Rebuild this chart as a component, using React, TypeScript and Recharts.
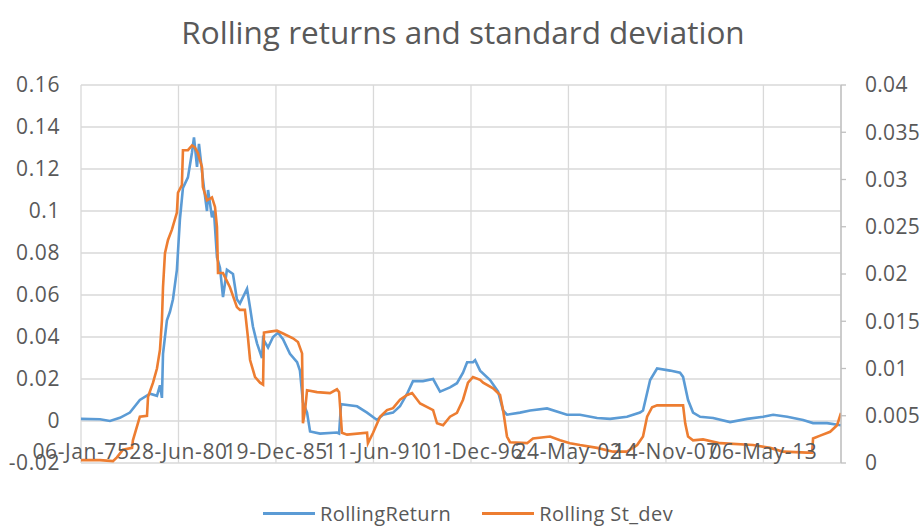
import { CartesianGrid, Line, LineChart, XAxis, YAxis } from "recharts";

const TICK_YEARS = [1975.014, 1980.489, 1985.964, 1991.441, 1996.918, 2002.392, 2007.868, 2013.342];
const TICK_LABELS = ["06-Jan-75", "28-Jun-80", "19-Dec-85", "11-Jun-91", "01-Dec-96", "24-May-02", "14-Nov-07", "06-May-13"];

const RETURN_TICKS = [-0.02, 0, 0.02, 0.04, 0.06, 0.08, 0.1, 0.12, 0.14, 0.16];
const STDEV_TICKS = [0, 0.005, 0.01, 0.015, 0.02, 0.025, 0.03, 0.035, 0.04];

// RollingReturn (left axis), dates as decimal years
const RETURN_DATES = [
  1975.01, 1976.08, 1976.64, 1977.2, 1977.76, 1978.32, 1978.89, 1979.28, 1979.45, 1979.56,
  1979.62, 1979.84, 1980.01, 1980.18, 1980.4, 1980.57, 1980.74, 1981.02, 1981.25, 1981.36,
  1981.53, 1981.64, 1981.81, 1981.92, 1982.09, 1982.15, 1982.37, 1982.48, 1982.65, 1982.82,
  1982.99, 1983.21, 1983.55, 1983.77, 1983.94, 1984.34, 1984.51, 1984.67, 1984.9, 1985.18,
  1985.24, 1985.52, 1985.8, 1986.08, 1986.36, 1986.75, 1987.15, 1987.31, 1987.48, 1987.71,
  1987.88, 1988.44, 1989.39, 1989.51, 1989.62, 1990.52, 1991.08, 1991.64, 1991.98, 1992.54,
  1992.93, 1993.33, 1993.66, 1994.22, 1994.79, 1995.18, 1995.74, 1996.13, 1996.47, 1996.7,
  1997.03, 1997.15, 1997.43, 1997.99, 1998.44, 1998.72, 1998.94, 1999.67, 2000.24, 2001.19,
  2002.31, 2003.04, 2004.0, 2004.73, 2005.68, 2006.41, 2006.58, 2006.98, 2007.37, 2008.1,
  2008.66, 2008.83, 2009.11, 2009.39, 2009.79, 2010.52, 2011.47, 2012.43, 2013.33, 2013.89,
  2014.68, 2015.57, 2016.13, 2016.92, 2017.7,
];
const RETURN_VALUES = [
  0.001, 0.0008, 0.0, 0.0015, 0.004, 0.01, 0.013, 0.012, 0.017, 0.011,
  0.032, 0.048, 0.052, 0.058, 0.072, 0.096, 0.111, 0.116, 0.128, 0.135,
  0.121, 0.132, 0.119, 0.111, 0.1, 0.11, 0.097, 0.1, 0.078, 0.073,
  0.059, 0.072, 0.07, 0.058, 0.056, 0.063, 0.054, 0.045, 0.037, 0.03,
  0.039, 0.035, 0.04, 0.042, 0.039, 0.032, 0.028, 0.024, 0.009, 0.004,
  -0.005, -0.006, -0.0055, -0.006, 0.008, 0.007, 0.004, 0.0005, 0.003, 0.004,
  0.007, 0.013, 0.019, 0.019, 0.02, 0.014, 0.016, 0.018, 0.023, 0.028,
  0.028, 0.029, 0.024, 0.0195, 0.014, 0.005, 0.003, 0.004, 0.005, 0.006,
  0.003, 0.003, 0.0014, 0.001, 0.002, 0.004, 0.005, 0.0195, 0.025, 0.024,
  0.023, 0.021, 0.01, 0.004, 0.002, 0.0014, -0.0005, 0.001, 0.002, 0.003,
  0.002, 0.0005, -0.001, -0.001, -0.002,
];

// Rolling St_dev (right axis)
const STDEV_DATES = [
  1975.01, 1976.08, 1976.81, 1977.03, 1977.37, 1977.88, 1977.93, 1978.32, 1978.72, 1978.78,
  1979.06, 1979.28, 1979.45, 1979.56, 1979.62, 1979.73, 1979.9, 1980.12, 1980.4, 1980.46,
  1980.68, 1980.74, 1981.02, 1981.25, 1981.41, 1981.58, 1981.81, 1981.86, 1982.09, 1982.37,
  1982.54, 1982.65, 1982.71, 1982.99, 1983.38, 1983.77, 1983.94, 1984.22, 1984.39, 1984.51,
  1984.79, 1985.07, 1985.24, 1985.29, 1985.63, 1986.02, 1986.36, 1986.92, 1987.2, 1987.43,
  1987.48, 1987.6, 1987.71, 1988.27, 1989.0, 1989.39, 1989.51, 1989.67, 1989.96, 1991.08,
  1991.13, 1991.42, 1991.81, 1992.2, 1992.54, 1992.93, 1993.33, 1993.61, 1994.06, 1994.79,
  1995.01, 1995.35, 1995.74, 1996.13, 1996.47, 1996.75, 1997.03, 1997.43, 1997.6, 1998.16,
  1998.55, 1998.72, 1998.94, 1999.11, 2000.07, 2000.4, 2001.36, 2001.92, 2002.48, 2003.04,
  2004.0, 2004.9, 2005.68, 2006.25, 2006.58, 2006.81, 2007.09, 2007.37, 2008.83, 2008.95,
  2009.11, 2009.39, 2009.95, 2010.91, 2012.76, 2013.72, 2014.45, 2015.8, 2016.08, 2016.13,
  2016.53, 2017.09, 2017.48, 2017.7,
];
const STDEV_VALUES = [
  0.0003, 0.0003, 0.0002, 0.0006, 0.0014, 0.0016, 0.0024, 0.0049, 0.005, 0.007,
  0.0085, 0.01, 0.012, 0.0151, 0.0186, 0.0222, 0.0236, 0.0247, 0.0265, 0.0286,
  0.0294, 0.0331, 0.0331, 0.0336, 0.0334, 0.0328, 0.0313, 0.0292, 0.0278, 0.0281,
  0.0271, 0.025, 0.0201, 0.0201, 0.0186, 0.0165, 0.0162, 0.0162, 0.0133, 0.0109,
  0.0091, 0.0085, 0.0083, 0.0138, 0.0139, 0.014, 0.0137, 0.0132, 0.0128, 0.0116,
  0.0042, 0.0056, 0.0077, 0.0075, 0.0074, 0.0078, 0.0075, 0.0032, 0.003, 0.0032,
  0.0021, 0.0032, 0.0049, 0.0056, 0.0058, 0.0067, 0.0072, 0.0074, 0.0063, 0.0056,
  0.0042, 0.004, 0.0049, 0.0053, 0.0067, 0.0085, 0.0091, 0.0088, 0.0085, 0.0079,
  0.0072, 0.0056, 0.0028, 0.0022, 0.0021, 0.0026, 0.0028, 0.0024, 0.0021, 0.0019,
  0.0016, 0.0012, 0.0012, 0.0019, 0.0028, 0.0049, 0.0059, 0.0061, 0.0061, 0.0042,
  0.0028, 0.0024, 0.0025, 0.0021, 0.0019, 0.0016, 0.0012, 0.0011, 0.0011, 0.0026,
  0.0029, 0.0033, 0.004, 0.0053,
];

const BLUE = "#5b9bd5";
const ORANGE = "#ed7d31";
const TEXT = "#595959";
const FONT = "'Open Sans', sans-serif";

const returnData = RETURN_DATES.map((t, i) => ({ t, value: RETURN_VALUES[i] }));
const stdevData = STDEV_DATES.map((t, i) => ({ t, value: STDEV_VALUES[i] }));

function labelFor(v: number) {
  let best = 0;
  TICK_YEARS.forEach((t, i) => {
    if (Math.abs(t - v) < Math.abs(TICK_YEARS[best] - v)) best = i;
  });
  return TICK_LABELS[best];
}

function DateTick(props: any) {
  const { x, y, payload } = props;
  return (
    <text
      x={x}
      y={y - 12}
      textAnchor="middle"
      dominantBaseline="central"
      fill={TEXT}
      fontSize={21}
      letterSpacing={0.6}
      fontFamily={FONT}
    >
      {labelFor(payload.value)}
    </text>
  );
}

function LegendItem({ color, label }: { color: string; label: string }) {
  return (
    <div style={{ display: "flex", alignItems: "center", gap: 5 }}>
      <span style={{ display: "inline-block", width: 52, height: 3, background: color }} />
      <span>{label}</span>
    </div>
  );
}

export default function App() {
  return (
    <div
      style={{
        position: "absolute",
        left: 0,
        top: 0,
        width: 920,
        height: 526,
        background: "#fff",
        fontFamily: FONT,
        color: TEXT,
      }}
    >
      <div
        style={{
          position: "absolute",
          top: 10,
          left: 0,
          width: 926,
          textAlign: "center",
          fontSize: 31.5,
        }}
      >
        Rolling returns and standard deviation
      </div>
      <LineChart
        width={920}
        height={526}
        margin={{ top: 85, right: 0, bottom: 62, left: 0 }}
      >
        <CartesianGrid yAxisId="left" stroke="#d9d9d9" strokeWidth={1.3} />
        <XAxis
          dataKey="t"
          type="number"
          domain={[1975.014, 2017.7]}
          ticks={TICK_YEARS}
          allowDataOverflow
          height={1}
          axisLine={false}
          tickLine={false}
          tickSize={0}
          tickMargin={0}
          tick={DateTick}
          interval={0}
        />
        <YAxis
          yAxisId="left"
          orientation="left"
          width={81}
          domain={[-0.02, 0.16]}
          ticks={RETURN_TICKS}
          interval={0}
          axisLine={false}
          tickLine={false}
          tickMargin={15}
          tickFormatter={(v) => String(v)}
          tick={{ fill: TEXT, fontSize: 21, fontFamily: FONT, letterSpacing: 0.6 }}
        />
        <YAxis
          yAxisId="right"
          orientation="right"
          width={79}
          domain={[0, 0.04]}
          ticks={STDEV_TICKS}
          interval={0}
          axisLine={{ stroke: "#bfbfbf", strokeWidth: 1.3 }}
          tickLine={{ stroke: "#bfbfbf", strokeWidth: 1.3 }}
          tickSize={5}
          tickMargin={19}
          tickFormatter={(v) => String(v)}
          tick={{ fill: TEXT, fontSize: 21, fontFamily: FONT, letterSpacing: 0.3, textAnchor: "start" }}
        />
        <Line
          yAxisId="left"
          data={returnData}
          dataKey="value"
          name="RollingReturn"
          type="linear"
          stroke={BLUE}
          strokeWidth={2.6}
          dot={false}
          isAnimationActive={false}
        />
        <Line
          yAxisId="right"
          data={stdevData}
          dataKey="value"
          name="Rolling St_dev"
          type="linear"
          stroke={ORANGE}
          strokeWidth={2.6}
          dot={false}
          isAnimationActive={false}
        />
      </LineChart>
      <div
        style={{
          position: "absolute",
          top: 500,
          left: 263,
          display: "flex",
          gap: 31,
          fontSize: 20,
          letterSpacing: 0.4,
        }}
      >
        <LegendItem color={BLUE} label="RollingReturn" />
        <LegendItem color={ORANGE} label="Rolling St_dev" />
      </div>
    </div>
  );
}
